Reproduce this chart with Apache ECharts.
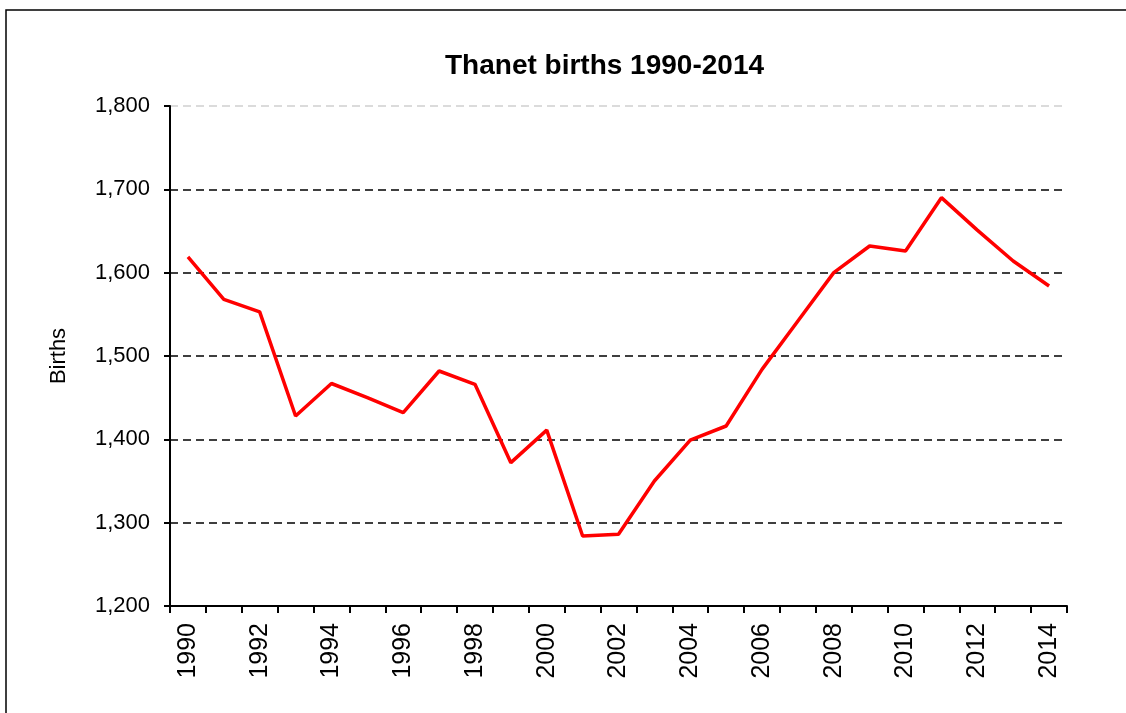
<!DOCTYPE html>
<html>
<head>
<meta charset="utf-8">
<script src="https://cdn.jsdelivr.net/npm/echarts@6/dist/echarts.min.js"></script>
<style>
html,body{margin:0;padding:0;background:#fff;}
#chart{width:1126px;height:713px;}
</style>
</head>
<body>
<div id="chart"></div>
<script>
const years = ['1990','1991','1992','1993','1994','1995','1996','1997','1998','1999','2000','2001','2002','2003','2004','2005','2006','2007','2008','2009','2010','2011','2012','2013','2014'];
const births = [1619,1568,1553,1428,1467,1450,1432,1482,1466,1372,1411,1284,1286,1350,1399,1416,1484,1542,1600,1632,1626,1690,1651,1614,1584];
const yMin = 1200, yMax = 1800, yStep = 100;
const titleText = 'Thanet births 1990-2014';
const yName = 'Births';

const font = '"Liberation Sans", Arial, sans-serif';
const chart = echarts.init(document.getElementById('chart'), null, {renderer:'canvas'});
chart.setOption({
  animation:false,
  backgroundColor:'#fff',
  textStyle:{fontFamily:font},
  title:{
    text:titleText, left:440, top:47,
    textStyle:{fontFamily:font, fontSize:28, fontWeight:'bold', color:'#000'}
  },
  graphic:[{
    type:'rect', shape:{x:6, y:10, width:1200, height:800},
    style:{fill:'none', stroke:'#000', lineWidth:1.5}, silent:true
  }],
  grid:{left:170, right:59, top:106, bottom:107, containLabel:false},
  xAxis:{
    type:'category', data:years, boundaryGap:true,
    axisLine:{show:true, lineStyle:{color:'#000', width:2}},
    axisTick:{show:true, interval:0, length:7, lineStyle:{color:'#000', width:2}},
    axisLabel:{interval:1, rotate:90, margin:17, fontSize:25, color:'#000', fontFamily:font},
    splitLine:{show:false}
  },
  yAxis:{
    type:'value', min:yMin, max:yMax, interval:yStep,
    name:yName, nameLocation:'middle', nameGap:100, nameRotate:90,
    nameTextStyle:{fontSize:22, color:'#000', fontFamily:font},
    axisLine:{show:true, lineStyle:{color:'#000', width:2}},
    axisTick:{show:true, length:6, lineStyle:{color:'#000', width:2}},
    axisLabel:{margin:20, fontSize:22, color:'#000', fontFamily:font,
      formatter:v=>v.toLocaleString('en-US')},
    splitLine:{show:true, lineStyle:{color:['#000','#000','#000','#000','#000','#000','#d0d0d0'], width:1.6, type:[8,5]}}
  },
  series:[{
    type:'line', data:births, symbol:'none',
    lineStyle:{color:'#ff0000', width:3.5}
  }]
});
</script>
</body>
</html>
